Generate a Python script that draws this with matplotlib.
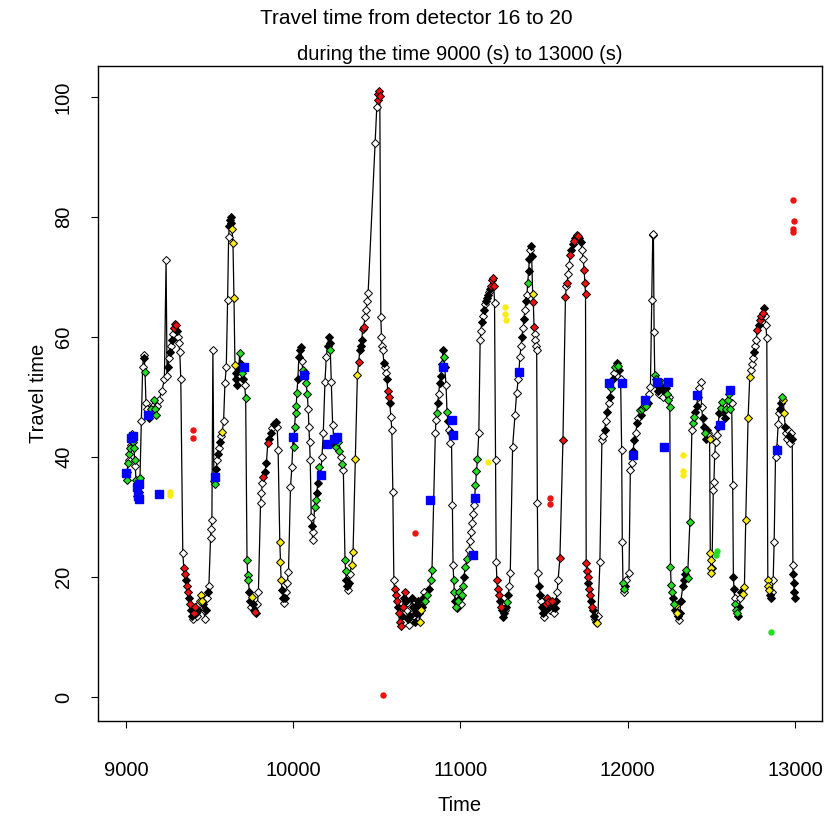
import matplotlib
matplotlib.use("Agg")
import matplotlib.pyplot as plt
from matplotlib import font_manager

# ---------------------------------------------------------------------------
# Travel time series (seconds of simulation time vs. travel time)
# kind: o = plain reading, k = dense/black reading, r/g/y = flagged readings
# ---------------------------------------------------------------------------
time_s = [
    9000, 9004, 9008, 9012, 9016, 9020, 9024, 9028, 9032, 9036, 9040, 9044, 9048, 9052, 9056, 9060, 9064, 9068, 9072, 9076, 9080, 9084,
    9092, 9100, 9106, 9110, 9114, 9120, 9126, 9130, 9136, 9142, 9150, 9160, 9170, 9176, 9182, 9188, 9196,
    9215, 9230, 9240, 9246, 9250, 9256, 9262, 9268, 9274, 9280, 9286, 9292, 9298, 9304, 9310, 9316, 9322, 9328,
    9340, 9346, 9352, 9358, 9364, 9370, 9376, 9382, 9388, 9394, 9400, 9406, 9412, 9418, 9424, 9430, 9436, 9442, 9448, 9454, 9460, 9466, 9472, 9478, 9484, 9490, 9496,
    9506, 9510, 9514, 9520, 9526, 9530, 9534, 9540, 9546, 9552, 9558, 9564, 9570, 9576, 9584, 9592, 9600, 9608, 9614, 9618, 9622, 9626, 9630, 9634, 9640, 9646, 9652, 9656, 9660, 9664, 9668, 9674, 9680, 9686, 9692, 9698, 9704, 9710, 9716,
    9724, 9728, 9732, 9738, 9744, 9750, 9756, 9762, 9768, 9774, 9780, 9786, 9792,
    9805, 9810, 9816, 9822, 9830, 9840, 9848, 9856, 9866, 9876, 9886, 9896, 9904, 9910,
    9920, 9924, 9928, 9934, 9940, 9946, 9952, 9958, 9964,
    9972, 9984, 9992, 10000, 10004, 10008, 10014, 10018, 10022, 10028, 10034, 10040, 10046, 10052, 10058, 10064, 10070, 10078, 10084, 10090, 10094, 10098, 10102, 10108, 10112, 10116, 10120,
    10128, 10134, 10140, 10148, 10156, 10164, 10172, 10180, 10190, 10198, 10206, 10212, 10218, 10222, 10228, 10236, 10244, 10250, 10256, 10262, 10268, 10276, 10284, 10292, 10300,
    10310, 10314, 10318, 10322, 10326, 10332, 10338,
    10350, 10358, 10372, 10384, 10392, 10398, 10404, 10410, 10416, 10422, 10430, 10436, 10442, 10448, 10490, 10500, 10506, 10510, 10514, 10518, 10524, 10528, 10532, 10536, 10542, 10548, 10554, 10560, 10566, 10572, 10578, 10584, 10590, 10596,
    10602, 10606, 10612, 10618, 10624, 10630, 10636, 10642, 10648, 10654, 10660, 10666, 10672, 10678, 10684, 10690, 10696, 10702, 10708, 10714, 10720, 10726, 10732, 10738, 10744, 10750, 10756, 10762, 10768, 10774, 10780, 10786, 10800, 10812, 10826, 10830,
    10850, 10854, 10858, 10864, 10870, 10876, 10884, 10890, 10896, 10900, 10906, 10914, 10920, 10926, 10932, 10938, 10946, 10952, 10956,
    10960, 10964, 10968, 10972, 10978, 10984, 10990, 10996, 11002, 11008, 11014, 11020,
    11030, 11040, 11050, 11058, 11064, 11070, 11076, 11082, 11090, 11096, 11102, 11110, 11118, 11122, 11128, 11134, 11140, 11146, 11152, 11158, 11164, 11170, 11176, 11182, 11188, 11194, 11200, 11204, 11210, 11214,
    11218, 11222, 11228, 11234, 11240, 11246, 11252, 11258, 11264, 11270, 11278, 11286, 11292, 11298,
    11312, 11326, 11336, 11346, 11356, 11362, 11368, 11374, 11380, 11386, 11392, 11398, 11402, 11408, 11412, 11416, 11420, 11426, 11432, 11436, 11440, 11444, 11448, 11452, 11456, 11460,
    11464, 11470, 11476, 11482, 11488, 11494, 11500, 11506, 11512, 11518, 11524, 11530, 11536, 11542, 11548, 11554, 11560, 11566, 11572, 11578, 11584,
    11595, 11613, 11628, 11634, 11638, 11644, 11650, 11655, 11664, 11672, 11680, 11688, 11696, 11704, 11712, 11720, 11728, 11734, 11740, 11744, 11748,
    11752, 11756, 11760, 11764, 11768, 11774, 11780, 11786, 11792, 11798, 11804, 11810, 11816, 11822,
    11834, 11846, 11854, 11862, 11870, 11878, 11886, 11894, 11902, 11910, 11918, 11926, 11934, 11942, 11950, 11958, 11964, 11968,
    11972, 11976, 11980, 11986, 11992,
    12008, 12016, 12024, 12032, 12040, 12048, 12056, 12064, 12072, 12080, 12088, 12096, 12104, 12112, 12120, 12128, 12136, 12144, 12150, 12154, 12158, 12162, 12168, 12174, 12180, 12186, 12192, 12198, 12204, 12210, 12216, 12222, 12228, 12234, 12240, 12248, 12252,
    12256, 12260, 12264, 12270, 12276, 12282, 12288, 12294, 12300, 12306, 12312, 12318,
    12330, 12338, 12344, 12350, 12358, 12372, 12384, 12390, 12396, 12404, 12412, 12420, 12428, 12436, 12442, 12448, 12454, 12460, 12466, 12472, 12478, 12484, 12490, 12494, 12496, 12498, 12500, 12504,
    12512, 12516, 12520, 12526, 12532, 12540, 12548, 12556, 12564, 12572, 12580, 12590, 12598, 12606, 12614, 12622, 12628,
    12632, 12636, 12640, 12644, 12650, 12656, 12662, 12668, 12674, 12680,
    12690, 12698, 12706, 12720, 12730, 12738, 12744, 12750, 12756, 12762, 12768, 12776, 12784, 12792, 12800, 12808, 12814, 12820, 12826, 12832,
    12838, 12842, 12846, 12852, 12858, 12864, 12870, 12876, 12884, 12892, 12900, 12906, 12912, 12918, 12924, 12930, 12936, 12942, 12948, 12954, 12960, 12966, 12972, 12978, 12984, 12988, 12990, 12993, 12996, 12999,
]

travel_time = [
    37.0, 36.2, 37.5, 39.0, 39.5, 40.5, 41.5, 42.0, 43.0, 43.8, 43.4, 42.5, 41.5, 39.5, 38.5, 36.2, 35.0, 33.5, 33.0, 34.2, 35.8, 36.5,
    46.0, 55.0, 57.0, 56.5, 54.2, 49.0, 48.0, 47.0, 46.5, 47.5, 48.0, 48.5, 49.5, 48.0, 47.0, 48.5, 49.5,
    51.0, 53.0, 72.8, 53.5, 55.0, 56.5, 57.5, 58.5, 59.5, 60.5, 61.5, 62.2, 62.0, 61.0, 60.0, 59.0, 57.5, 53.0,
    24.0, 21.5, 20.5, 19.5, 18.5, 17.5, 16.5, 15.5, 14.5, 13.5, 13.0, 14.0, 15.0, 14.0, 13.5, 14.5, 15.5, 16.0, 17.0, 16.0, 15.5, 14.5, 13.0, 14.5, 16.5, 17.5, 18.5,
    26.5, 28.0, 29.5, 57.8, 36.0, 36.8, 35.5, 38.0, 39.5, 40.5, 41.5, 42.5, 43.5, 44.2, 46.0, 52.3, 55.0, 66.2, 76.7, 78.5, 79.5, 80.0, 79.0, 78.0, 75.7, 66.5, 55.3, 54.0, 53.0, 52.0, 53.5, 54.5, 57.3, 55.5, 54.0, 53.0, 55.0, 52.0, 49.8,
    22.8, 20.3, 19.5, 17.5, 16.0, 15.0, 16.7, 15.5, 14.5, 14.2, 14.0, 15.5, 17.5,
    32.3, 34.0, 35.7, 36.7, 37.5, 39.0, 42.3, 43.0, 44.0, 44.8, 45.5, 45.9, 45.0, 41.2,
    25.9, 22.5, 19.5, 17.8, 16.5, 15.7, 16.5, 17.5, 19.0,
    20.9, 35.0, 38.3, 43.4, 41.7, 45.0, 47.3, 48.5, 50.6, 53.0, 56.7, 57.8, 58.4, 56.0, 54.5, 53.7, 54.0, 52.3, 50.5, 48.0, 45.0, 42.5, 39.5, 30.0, 28.5, 26.2, 27.5,
    31.7, 32.8, 34.0, 35.6, 38.4, 37.0, 40.0, 44.0, 52.5, 56.7, 58.5, 60.0, 59.0, 57.8, 52.5, 45.3, 43.0, 42.0, 41.7, 43.4, 42.5, 41.0, 40.0, 38.9, 37.8,
    22.8, 21.0, 19.5, 18.5, 17.8, 19.0, 20.5,
    22.0, 24.2, 39.7, 53.7, 55.9, 57.8, 58.5, 59.5, 61.4, 61.7, 63.4, 64.5, 66.0, 67.3, 92.3, 98.4, 99.5, 100.5, 101.0, 100.2, 63.4, 60.0, 58.5, 57.8, 55.7, 55.0, 54.0, 53.0, 51.0, 50.0, 49.0, 46.7, 44.5, 34.2,
    19.5, 18.0, 17.0, 16.0, 15.0, 14.0, 12.5, 11.8, 13.5, 15.0, 16.5, 17.5, 16.0, 14.5, 13.0, 12.0, 13.5, 15.0, 16.5, 15.0, 13.5, 12.5, 14.0, 15.3, 16.0, 14.0, 12.5, 14.5, 15.0, 16.5, 17.5, 16.0, 17.0, 18.0, 19.5, 21.2,
    44.0, 46.2, 47.3, 49.0, 50.5, 52.3, 53.5, 55.5, 57.8, 56.7, 55.0, 52.0, 47.5, 46.0, 44.5, 42.3, 44.0, 32.0, 22.0,
    19.5, 17.5, 16.0, 15.0, 14.8, 16.0, 17.5, 16.5, 15.5, 17.0, 18.5, 20.0,
    21.7, 23.0, 24.5, 26.0, 27.5, 29.0, 30.5, 32.0, 35.3, 37.6, 39.6, 44.0, 59.5, 61.0, 62.5, 63.5, 64.5, 65.5, 66.0, 66.5, 67.0, 67.5, 68.0, 68.5, 69.5, 69.8, 68.5, 65.7, 39.5, 22.5,
    19.5, 18.0, 17.0, 16.0, 15.0, 14.5, 13.3, 14.0, 14.5, 15.0, 15.8, 17.0, 18.5, 20.6,
    41.7, 47.0, 50.6, 53.0, 56.7, 58.5, 60.0, 61.5, 63.0, 64.5, 66.0, 67.0, 69.0, 71.0, 73.0, 74.5, 75.2, 73.5, 67.2, 65.8, 61.7, 60.5, 59.5, 58.5, 57.8, 32.3,
    20.7, 18.5, 17.0, 16.0, 15.0, 14.0, 13.3, 14.5, 15.5, 16.5, 15.8, 15.0, 14.5, 15.5, 16.0, 15.0, 14.0, 14.8, 16.0, 17.5, 19.5,
    23.2, 42.8, 66.7, 68.5, 69.0, 70.5, 72.0, 73.7, 74.5, 75.5, 76.0, 76.5, 77.0, 76.8, 76.5, 75.8, 74.5, 73.0, 71.2, 69.0, 67.2,
    22.3, 21.0, 20.0, 19.0, 18.0, 17.0, 16.0, 15.0, 14.5, 13.5, 13.0, 12.5, 12.3, 13.5,
    22.5, 42.8, 43.5, 44.5, 46.0, 47.5, 49.0, 50.0, 51.5, 53.0, 54.0, 55.0, 55.7, 55.2, 54.5, 53.0, 41.2, 25.9,
    19.0, 18.0, 17.5, 18.5, 19.5,
    20.6, 37.8, 39.0, 41.0, 42.8, 44.0, 45.6, 46.5, 47.8, 47.0, 48.0, 48.5, 49.0, 48.5, 49.0, 50.5, 51.7, 66.2, 77.0, 77.2, 60.9, 53.7, 53.0, 52.0, 51.0, 50.5, 51.5, 52.5, 51.5, 50.0, 51.0, 52.5, 51.5, 50.5, 49.5, 50.0, 48.4,
    21.7, 18.6, 17.5, 16.5, 15.5, 14.5, 15.3, 14.0, 13.5, 12.8, 14.0, 16.0,
    18.5, 19.5, 20.5, 21.2, 19.8, 29.2, 44.5, 45.7, 46.6, 47.5, 48.5, 50.0, 51.5, 52.6, 48.4, 46.5, 45.0, 44.0, 43.0, 44.5, 44.0, 43.5, 43.0, 24.0, 22.8, 21.5, 20.7, 21.5,
    34.5, 35.8, 40.3, 42.5, 43.7, 45.0, 47.3, 48.2, 49.2, 47.5, 46.5, 48.0, 49.5, 50.5, 48.0, 49.0, 35.3,
    20.0, 18.0, 16.5, 15.5, 14.5, 14.0, 13.5, 15.0, 16.5, 17.5,
    17.2, 18.3, 29.5, 46.5, 53.3, 54.5, 55.5, 56.5, 57.5, 58.5, 59.5, 61.2, 62.0, 62.8, 63.5, 64.0, 64.8, 63.5, 62.0, 59.8,
    19.5, 18.5, 17.8, 17.0, 16.5, 17.5, 19.5, 25.9, 40.0, 41.5, 45.5, 47.3, 48.0, 49.0, 50.0, 49.5, 47.3, 45.0, 44.0, 43.0, 44.5, 43.5, 42.3, 44.0, 43.0, 22.0, 20.5, 19.0, 17.5, 16.5,
]

kind = (
    "o g o g o g g o o o o g g g o g o o o g o g "
    "o o o k g o o o k o g o g g g o o "
    "o o o o k o k o k o r r r k o o o o "
    "o r r k r r k r k k o r r k o k o y y y k o o k o k o "
    "o o o o g g g k o k o k o y o o o o o k k k k y y y y k k k o k g k g k k o g "
    "g g g k k o y k k r k o o "
    "o o o r k k r k k o k k o o "
    "y y y k k o k o o "
    "o o o o g g g g g k k k k o g o g g g o o o o o k o o "
    "g g k k g o o o o o k k k g o o o k g o g g o g o "
    "g g k k o k o "
    "y y y y r k k k r r o o o o o o r r r r o o o o k o o k r r k o o o "
    "o r r r k r r r k r k r k o k o k o k k o k k k k k y y k k o g g k g g "
    "o o g k o k k g k g k o g k o o k o o "
    "g g k g k g g k o g g k "
    "g g o o o o o o g g g o o o k o k o k k k o k r r r r o o o "
    "r r r k r k k k o k g k o o "
    "o o o o o o k o k o k o g k k o k k y r r o o o o o "
    "o k k o k k o k r r r k o k r k o k k o o "
    "r r r o r o o r k k r k r r k k o o r r r "
    "r r r k r r k r k k o k y o "
    "o o o k o k o k g k o g k g k o o o "
    "g g o k o "
    "o o o k k o k o g k g g o g k o o o o o o g g k k o k g k o k g k g g o g "
    "g g g k g k y y k o k k "
    "k k k g g g o g g k k o o o o k k g k k o o y y y y y k "
    "o o o o o k k g g k k g g g g o o "
    "k k o g g g k k o k "
    "y y y y y o o o k o o r k r r r k o o o "
    "y y y k k o o o o o o o k k g y y k o o o k o o k o k k k k"
).split()

# Blue squares
blue_t = [9000, 9032, 9040, 9064, 9070, 9076, 9080, 9130, 9200, 9530,
          9704, 10000, 10064, 10164, 10202, 10244, 10262, 10818, 10897, 10948,
          10957, 11073, 11087, 11352, 11890, 11964, 12033, 12104, 12175, 12217,
          12240, 12417, 12552, 12612, 12895]
blue_v = [37.3, 43.2, 43.5, 35.0, 33.5, 33.0, 35.5, 47.0, 33.9, 36.7,
          55.0, 43.4, 53.7, 37.0, 42.1, 43.0, 43.4, 32.8, 55.0, 46.2,
          43.7, 23.7, 33.2, 54.2, 52.3, 52.4, 40.3, 49.5, 52.5, 41.7,
          52.5, 50.3, 45.3, 51.2, 41.2]

# Isolated readings off the main series
red_t = [9402, 9403, 10535, 10728, 11536, 11538, 12990, 12993, 12990, 12990]
red_v = [44.5, 43.2, 0.3, 27.3, 33.2, 32.2, 82.8, 79.4, 78.1, 77.6]
yellow_t = [9262, 9264, 11165, 11266, 11268, 11270, 12331, 12331, 12332]
yellow_v = [34.2, 33.6, 39.2, 65.0, 63.8, 62.8, 40.3, 37.6, 37.0]
green_t = [12530, 12533, 12855]
green_v = [23.6, 24.4, 10.9]

x_ticks = [9000, 10000, 11000, 12000, 13000]
y_ticks = [0, 20, 40, 60, 80, 100]

# ---------------------------------------------------------------------------
available = {f.name for f in font_manager.fontManager.ttflist}
narrow = 'Liberation Sans Narrow' in available
family = 'Liberation Sans Narrow' if narrow else 'Liberation Sans'
plt.rcParams['font.family'] = [family, 'DejaVu Sans']
fs = 17.0 if narrow else 14.5

W, H = 832, 821
fig = plt.figure(figsize=(W / 100, H / 100), dpi=100)
ax = fig.add_axes([98 / W, (H - 721) / H, 724 / W, 655 / H])

n = min(len(time_s), len(travel_time), len(kind))
t = time_s[:n]
v = travel_time[:n]
k = kind[:n]

ax.plot(t, v, color='black', lw=0.9, zorder=1)

fills = {'o': 'white', 'k': 'black', 'r': '#ee1111', 'g': '#22dd22', 'y': '#f8ec10'}
for code in ['o', 'k', 'y', 'g', 'r']:
    xs = [t[i] for i in range(n) if k[i] == code]
    ys = [v[i] for i in range(n) if k[i] == code]
    ax.plot(xs, ys, ls='none', marker='D', ms=4.4, mfc=fills[code],
            mec='black', mew=0.7, zorder=2)

ax.plot(blue_t, blue_v, ls='none', marker='s', ms=5.6, mfc='#0000ff',
        mec='#0000ff', zorder=3)
ax.plot(red_t, red_v, ls='none', marker='o', ms=3.6, mfc='#ee1111', mec='#ee1111', zorder=3)
ax.plot(yellow_t, yellow_v, ls='none', marker='o', ms=3.6, mfc='#f8ec10', mec='#f8ec10', zorder=3)
ax.plot(green_t, green_v, ls='none', marker='o', ms=3.6, mfc='#22dd22', mec='#22dd22', zorder=3)

ax.set_xlim(8833, 13162)
ax.set_ylim(-4.0, 105.2)
ax.set_xticks(x_ticks)
ax.set_xticklabels([str(x) for x in x_ticks])
ax.set_yticks(y_ticks)
ax.set_yticklabels([str(y) for y in y_ticks], rotation=90, va='center')
ax.tick_params(axis='both', direction='out', length=5, width=0.8,
               labelsize=fs, colors='black')
ax.tick_params(axis='x', pad=24)
ax.tick_params(axis='y', pad=13)
for s in ax.spines.values():
    s.set_linewidth(1.0)
    s.set_color('black')

fig.text(416 / W, 1 - 18 / H, 'Travel time from detector 16 to 20',
         ha='center', va='center', fontsize=fs + 0.5)
fig.text(460 / W, 1 - 55 / H, 'during the time 9000 (s) to 13000 (s)',
         ha='center', va='center', fontsize=fs)
fig.text(460 / W, 1 - 805 / H, 'Time', ha='center', va='center', fontsize=fs)
fig.text(38 / W, 1 - 393 / H, 'Travel time', ha='center', va='center',
         rotation=90, fontsize=fs)

fig.savefig('out.png', dpi=100)
